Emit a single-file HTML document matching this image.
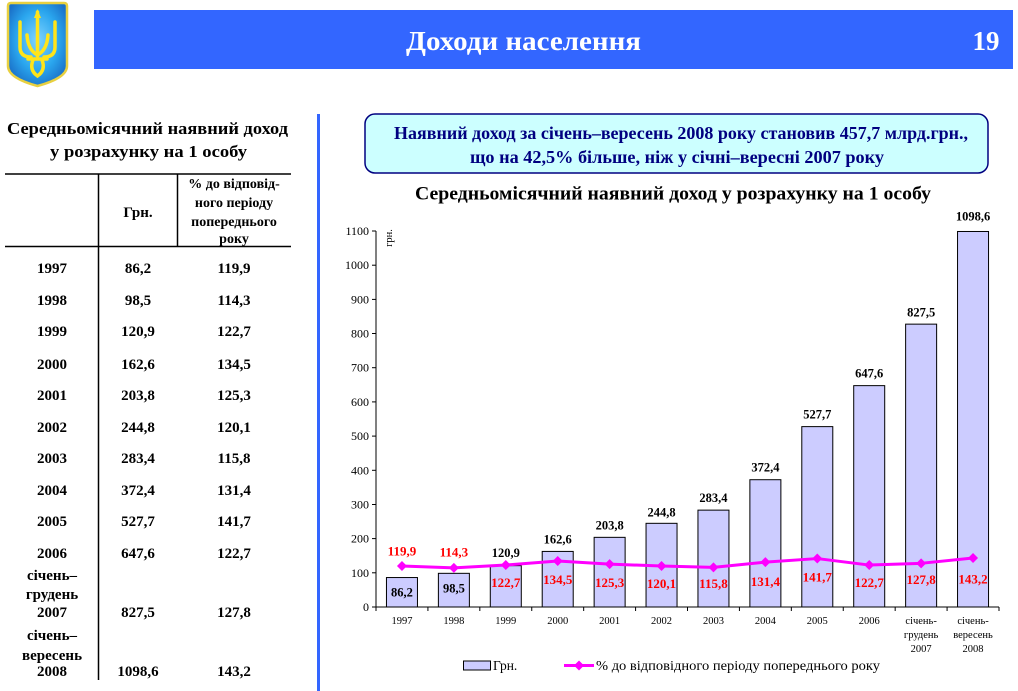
<!DOCTYPE html>
<html><head><meta charset="utf-8"><style>
html,body{margin:0;padding:0;background:#fff;}
svg{display:block;}
text{font-family:"Liberation Serif","Noto Serif CJK SC",serif;}
</style></head><body>
<svg width="1018" height="691" viewBox="0 0 1018 691" xmlns="http://www.w3.org/2000/svg">
<defs>
<radialGradient id="sh" cx="50%" cy="45%" r="60%">
<stop offset="0" stop-color="#7fd4ff"/><stop offset="0.6" stop-color="#2aa6ee"/><stop offset="1" stop-color="#1a70c8"/>
</radialGradient>
</defs>
<rect width="1018" height="691" fill="#fff"/>
<!-- coat of arms -->
<path d="M8 6 Q8 3 11 3 L64 3 Q67 3 67 6 L67 66 Q67 78 37.5 86 Q8 78 8 66 Z" fill="url(#sh)" stroke="#e8d040" stroke-width="2.5"/>
<g fill="none" stroke="#ffe41a" stroke-width="3.5" stroke-linecap="round">
<path d="M37.5 12 L37.5 56"/>
<path d="M20 22 L20 47 Q20 57 31 57"/>
<path d="M55 22 L55 47 Q55 57 44 57"/>
<path d="M27 35 Q28 50 37.5 55"/>
<path d="M48 35 Q47 50 37.5 55"/>
<path d="M28 59 L47 59"/>
<path d="M33 60 Q29 70 37.5 76 Q46 70 42 60"/>
</g>
<polygon points="37.5,9 41,18 34,18" fill="#ffe41a"/>
<!-- banner -->
<rect x="94" y="10" width="919" height="59" fill="#3366ff"/>
<text x="523.5" y="50" font-size="27" font-weight="bold" fill="#fff" text-anchor="middle" textLength="235" lengthAdjust="spacingAndGlyphs">Доходи населення</text>
<text x="986" y="50" font-size="27" font-weight="bold" fill="#fff" text-anchor="middle">19</text>
<!-- separator -->
<rect x="317" y="114" width="3" height="577" fill="#3366ff"/>
<!-- left table -->
<text x="147.5" y="134" font-size="16.5" font-weight="bold" text-anchor="middle" textLength="281" lengthAdjust="spacingAndGlyphs">Середньомісячний наявний доход</text>
<text x="148.5" y="157" font-size="16.5" font-weight="bold" text-anchor="middle" textLength="197" lengthAdjust="spacingAndGlyphs">у розрахунку на 1 особу</text>
<line x1="5" y1="174" x2="291" y2="174" stroke="#000" stroke-width="1.5"/>
<line x1="5" y1="246.5" x2="291" y2="246.5" stroke="#000" stroke-width="1.5"/>
<line x1="98.5" y1="174" x2="98.5" y2="680" stroke="#000" stroke-width="1.5"/>
<line x1="177.5" y1="174" x2="177.5" y2="246.5" stroke="#000" stroke-width="1.5"/>
<g font-size="14" font-weight="bold" text-anchor="middle">
<text x="138" y="217" font-size="15">Грн.</text>
<text x="234" y="188">% до відповід-</text>
<text x="234" y="207">ного періоду</text>
<text x="234" y="226">попереднього</text>
<text x="234" y="243">року</text>
</g>
<g font-size="15" font-weight="bold" text-anchor="middle">
<text x="52" y="273">1997</text><text x="138" y="273">86,2</text><text x="234" y="273">119,9</text>
<text x="52" y="305">1998</text><text x="138" y="305">98,5</text><text x="234" y="305">114,3</text>
<text x="52" y="336">1999</text><text x="138" y="336">120,9</text><text x="234" y="336">122,7</text>
<text x="52" y="369">2000</text><text x="138" y="369">162,6</text><text x="234" y="369">134,5</text>
<text x="52" y="400">2001</text><text x="138" y="400">203,8</text><text x="234" y="400">125,3</text>
<text x="52" y="432">2002</text><text x="138" y="432">244,8</text><text x="234" y="432">120,1</text>
<text x="52" y="463">2003</text><text x="138" y="463">283,4</text><text x="234" y="463">115,8</text>
<text x="52" y="495">2004</text><text x="138" y="495">372,4</text><text x="234" y="495">131,4</text>
<text x="52" y="526">2005</text><text x="138" y="526">527,7</text><text x="234" y="526">141,7</text>
<text x="52" y="558">2006</text><text x="138" y="558">647,6</text><text x="234" y="558">122,7</text>
<text x="52" y="580">січень–</text>
<text x="52" y="599">грудень</text>
<text x="52" y="617">2007</text><text x="138" y="617">827,5</text><text x="234" y="617">127,8</text>
<text x="52" y="640">січень–</text>
<text x="52" y="660">вересень</text>
<text x="52" y="676">2008</text><text x="138" y="676">1098,6</text><text x="234" y="676">143,2</text>
</g>
<!-- callout -->
<rect x="365" y="114" width="623" height="59" rx="10" ry="10" fill="#ccffff" stroke="#000080" stroke-width="1.5"/>
<text x="681" y="139" font-size="17.5" font-weight="bold" fill="#000080" text-anchor="middle" textLength="574" lengthAdjust="spacingAndGlyphs">Наявний доход за січень–вересень 2008 року становив 457,7 млрд.грн.,</text>
<text x="677" y="163" font-size="17.5" font-weight="bold" fill="#000080" text-anchor="middle" textLength="414" lengthAdjust="spacingAndGlyphs">що на 42,5% більше, ніж у січні–вересні 2007 року</text>
<!-- chart title -->
<text x="673" y="199.5" font-size="18.5" font-weight="bold" text-anchor="middle" textLength="516" lengthAdjust="spacingAndGlyphs">Середньомісячний наявний доход у розрахунку на 1 особу</text>
<!-- y axis -->
<g stroke="#000" stroke-width="1">
<line x1="376" y1="231" x2="376" y2="607"/>
<line x1="372" y1="607" x2="376" y2="607"/>
<line x1="372" y1="572.8" x2="376" y2="572.8"/>
<line x1="372" y1="538.6" x2="376" y2="538.6"/>
<line x1="372" y1="504.5" x2="376" y2="504.5"/>
<line x1="372" y1="470.3" x2="376" y2="470.3"/>
<line x1="372" y1="436.1" x2="376" y2="436.1"/>
<line x1="372" y1="401.9" x2="376" y2="401.9"/>
<line x1="372" y1="367.7" x2="376" y2="367.7"/>
<line x1="372" y1="333.5" x2="376" y2="333.5"/>
<line x1="372" y1="299.4" x2="376" y2="299.4"/>
<line x1="372" y1="265.2" x2="376" y2="265.2"/>
<line x1="372" y1="231" x2="376" y2="231"/>
</g>
<g font-size="12" text-anchor="end" fill="#000">
<text x="369" y="611">0</text>
<text x="369" y="576.8">100</text>
<text x="369" y="542.6">200</text>
<text x="369" y="508.5">300</text>
<text x="369" y="474.3">400</text>
<text x="369" y="440.1">500</text>
<text x="369" y="405.9">600</text>
<text x="369" y="371.7">700</text>
<text x="369" y="337.5">800</text>
<text x="369" y="303.4">900</text>
<text x="369" y="269.2">1000</text>
<text x="369" y="235">1100</text>
</g>
<text transform="translate(392,238) rotate(-90)" font-size="10.5" text-anchor="middle">грн.</text>
<!-- bars -->
<g fill="#ccccff" stroke="#000" stroke-width="1">
<rect x="386.46" y="577.54" width="31" height="29.46"/>
<rect x="438.38" y="573.33" width="31" height="33.67"/>
<rect x="490.29" y="565.67" width="31" height="41.33"/>
<rect x="542.21" y="551.42" width="31" height="55.58"/>
<rect x="594.13" y="537.34" width="31" height="69.66"/>
<rect x="646.04" y="523.32" width="31" height="83.68"/>
<rect x="697.96" y="510.13" width="31" height="96.87"/>
<rect x="749.88" y="479.71" width="31" height="127.29"/>
<rect x="801.79" y="426.62" width="31" height="180.38"/>
<rect x="853.71" y="385.64" width="31" height="221.36"/>
<rect x="905.63" y="324.14" width="31" height="282.86"/>
<rect x="957.54" y="231.48" width="31" height="375.52"/>
</g>
<!-- x axis -->
<g stroke="#000" stroke-width="1">
<line x1="376" y1="607" x2="999" y2="607"/>
<line x1="376" y1="607" x2="376" y2="611"/>
<line x1="427.92" y1="607" x2="427.92" y2="611"/>
<line x1="479.83" y1="607" x2="479.83" y2="611"/>
<line x1="531.75" y1="607" x2="531.75" y2="611"/>
<line x1="583.67" y1="607" x2="583.67" y2="611"/>
<line x1="635.58" y1="607" x2="635.58" y2="611"/>
<line x1="687.5" y1="607" x2="687.5" y2="611"/>
<line x1="739.42" y1="607" x2="739.42" y2="611"/>
<line x1="791.33" y1="607" x2="791.33" y2="611"/>
<line x1="843.25" y1="607" x2="843.25" y2="611"/>
<line x1="895.17" y1="607" x2="895.17" y2="611"/>
<line x1="947.08" y1="607" x2="947.08" y2="611"/>
<line x1="999" y1="607" x2="999" y2="611"/>
</g>
<g font-size="10.5" text-anchor="middle" fill="#000">
<text x="401.96" y="624">1997</text>
<text x="453.88" y="624">1998</text>
<text x="505.79" y="624">1999</text>
<text x="557.71" y="624">2000</text>
<text x="609.63" y="624">2001</text>
<text x="661.54" y="624">2002</text>
<text x="713.46" y="624">2003</text>
<text x="765.38" y="624">2004</text>
<text x="817.29" y="624">2005</text>
<text x="869.21" y="624">2006</text>
<text x="921.13" y="624">січень-</text>
<text x="921.13" y="638">грудень</text>
<text x="921.13" y="652">2007</text>
<text x="973.04" y="624">січень-</text>
<text x="973.04" y="638">вересень</text>
<text x="973.04" y="652">2008</text>
</g>
<!-- bar value labels -->
<g font-size="12.5" font-weight="bold" text-anchor="middle" fill="#000">
<text x="401.96" y="596.5">86,2</text>
<text x="453.88" y="592.5">98,5</text>
<text x="505.79" y="557">120,9</text>
<text x="557.71" y="543.5">162,6</text>
<text x="609.63" y="529.5">203,8</text>
<text x="661.54" y="516.5">244,8</text>
<text x="713.46" y="502">283,4</text>
<text x="765.38" y="471.5">372,4</text>
<text x="817.29" y="418.5">527,7</text>
<text x="869.21" y="377.5">647,6</text>
<text x="921.13" y="316.5">827,5</text>
<text x="973.04" y="220.5">1098,6</text>
</g>
<!-- line -->
<polyline points="401.96,566.02 453.88,567.93 505.79,565.06 557.71,561.03 609.63,564.17 661.54,565.95 713.46,567.42 765.38,562.09 817.29,558.56 869.21,565.06 921.13,563.32 973.04,558.05" fill="none" stroke="#ff00ff" stroke-width="3" stroke-linejoin="round"/>
<g fill="#ff00ff">
<polygon points="401.96,561.02 406.96,566.02 401.96,571.02 396.96,566.02"/>
<polygon points="453.88,562.93 458.88,567.93 453.88,572.93 448.88,567.93"/>
<polygon points="505.79,560.06 510.79,565.06 505.79,570.06 500.79,565.06"/>
<polygon points="557.71,556.03 562.71,561.03 557.71,566.03 552.71,561.03"/>
<polygon points="609.63,559.17 614.63,564.17 609.63,569.17 604.63,564.17"/>
<polygon points="661.54,560.95 666.54,565.95 661.54,570.95 656.54,565.95"/>
<polygon points="713.46,562.42 718.46,567.42 713.46,572.42 708.46,567.42"/>
<polygon points="765.38,557.09 770.38,562.09 765.38,567.09 760.38,562.09"/>
<polygon points="817.29,553.56 822.29,558.56 817.29,563.56 812.29,558.56"/>
<polygon points="869.21,560.06 874.21,565.06 869.21,570.06 864.21,565.06"/>
<polygon points="921.13,558.32 926.13,563.32 921.13,568.32 916.13,563.32"/>
<polygon points="973.04,553.05 978.04,558.05 973.04,563.05 968.04,558.05"/>
</g>
<!-- percent labels -->
<g font-size="13" font-weight="bold" text-anchor="middle" fill="#ff0000">
<text x="401.96" y="555.5">119,9</text>
<text x="453.88" y="556.5">114,3</text>
<text x="505.79" y="587">122,7</text>
<text x="557.71" y="584">134,5</text>
<text x="609.63" y="587">125,3</text>
<text x="661.54" y="588">120,1</text>
<text x="713.46" y="588">115,8</text>
<text x="765.38" y="586">131,4</text>
<text x="817.29" y="581.5">141,7</text>
<text x="869.21" y="587">122,7</text>
<text x="921.13" y="584">127,8</text>
<text x="973.04" y="583.5">143,2</text>
</g>
<!-- legend -->
<rect x="463.5" y="661" width="27" height="9" fill="#ccccff" stroke="#000" stroke-width="1"/>
<text x="493" y="670" font-size="13.5">Грн.</text>
<line x1="564" y1="665.5" x2="594" y2="665.5" stroke="#ff00ff" stroke-width="3"/>
<polygon points="579,660.5 584,665.5 579,670.5 574,665.5" fill="#ff00ff"/>
<text x="596" y="670" font-size="13.5" textLength="284" lengthAdjust="spacingAndGlyphs">% до відповідного періоду попереднього року</text>
</svg>
</body></html>
